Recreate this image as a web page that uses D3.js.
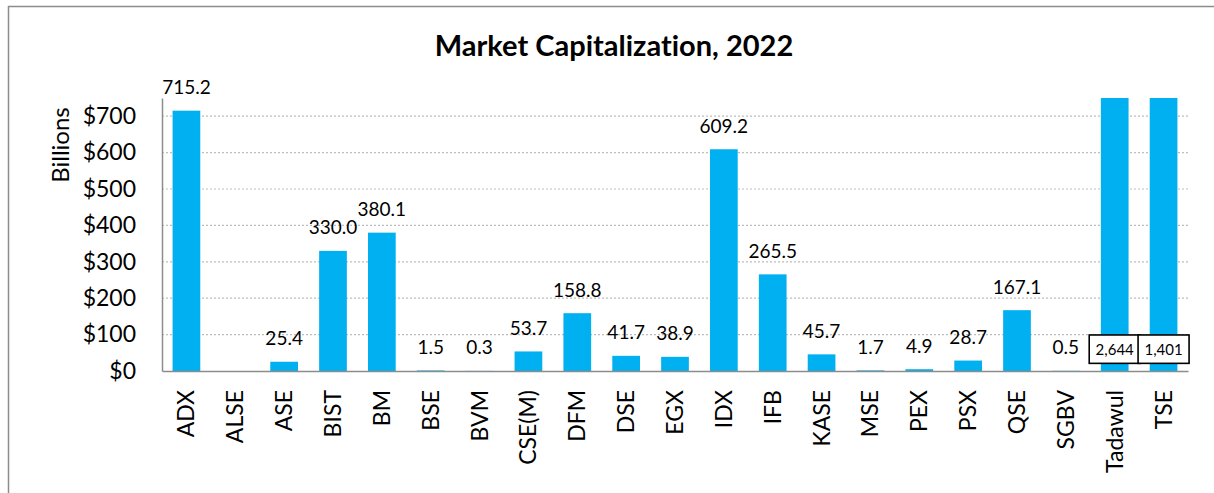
<!DOCTYPE html>
<html>
<head>
<meta charset="utf-8">
<script src="https://cdn.jsdelivr.net/npm/d3@7"></script>
<style>
  body { margin: 0; background: #fff; }
  text { font-family: Lato, "Open Sans", sans-serif; fill: #000; font-variant-ligatures: none; }
</style>
</head>
<body>
<div id="chart"></div>
<script>
// market capitalization by exchange, billions USD
var exchanges = ["ADX", "ALSE", "ASE", "BIST", "BM", "BSE", "BVM", "CSE(M)", "DFM", "DSE",
  "EGX", "IDX", "IFB", "KASE", "MSE", "PEX", "PSX", "QSE", "SGBV", "Tadawul", "TSE"];
var marketCap = [715.2, null, 25.4, 330.0, 380.1, 1.5, 0.3, 53.7, 158.8, 41.7,
  38.9, 609.2, 265.5, 45.7, 1.7, 4.9, 28.7, 167.1, 0.5, 2644, 1401];
var yTicks = [0, 100, 200, 300, 400, 500, 600, 700];
var yMax = 750;

var svgWidth = 1214;
var svgHeight = 493;

var margin = {
  top: 98,
  right: 26,
  bottom: 122,
  left: 162
};

var width = svgWidth - margin.left - margin.right;
var height = svgHeight - margin.top - margin.bottom;

var svg = d3.select("#chart")
  .append("svg")
  .attr("width", svgWidth)
  .attr("height", svgHeight);

// outer frame
svg.append("rect")
  .attr("x", 8.5)
  .attr("y", 6.5)
  .attr("width", 1220)
  .attr("height", 500)
  .attr("fill", "none")
  .attr("stroke", "#8c8c8c")
  .attr("stroke-width", 1.5);

var chartGroup = svg.append("g")
  .attr("transform", `translate(${margin.left}, ${margin.top})`);

var xBandScale = d3.scaleBand()
  .domain(exchanges)
  .range([0, width])
  .paddingInner(0.433)
  .paddingOuter(0.2165);

var yLinearScale = d3.scaleLinear()
  .domain([0, yMax])
  .range([height, 0]);

// gridlines
chartGroup.append("g")
  .selectAll("line")
  .data(yTicks.filter(d => d > 0))
  .enter()
  .append("line")
  .attr("x1", 0)
  .attr("x2", width)
  .attr("y1", d => yLinearScale(d))
  .attr("y2", d => yLinearScale(d))
  .attr("stroke", "#bdbdbd")
  .attr("stroke-width", 1.2)
  .attr("stroke-dasharray", "2,2");

// bars (clipped at axis max)
var rows = exchanges.map((e, i) => ({ name: e, value: marketCap[i] }));

chartGroup.selectAll(".bar")
  .data(rows.filter(d => d.value !== null))
  .enter()
  .append("rect")
  .attr("class", "bar")
  .attr("x", d => xBandScale(d.name))
  .attr("width", xBandScale.bandwidth())
  .attr("y", d => yLinearScale(Math.min(d.value, yMax)))
  .attr("height", d => height - yLinearScale(Math.min(d.value, yMax)))
  .attr("fill", "#00B0F0");

// y axis
var leftAxis = d3.axisLeft(yLinearScale)
  .tickValues(yTicks)
  .tickSize(0)
  .tickPadding(26)
  .tickFormat(d => "$" + d);

var yAxis = chartGroup.append("g").call(leftAxis);
yAxis.select(".domain").attr("stroke", "#8c8c8c").attr("stroke-width", 1.5);
yAxis.selectAll("text")
  .attr("font-size", "23px")
  .attr("font-family", "Lato, sans-serif");

// x axis
var bottomAxis = d3.axisBottom(xBandScale).tickSize(0).tickPadding(0);
var xAxis = chartGroup.append("g")
  .attr("transform", `translate(0, ${height})`)
  .call(bottomAxis);
xAxis.select(".domain").attr("stroke", "#8c8c8c").attr("stroke-width", 1.5);
xAxis.selectAll("text")
  .attr("font-size", "23px")
  .attr("font-family", "Lato, sans-serif")
  .attr("transform", "rotate(-90)")
  .attr("x", -19)
  .attr("y", 0)
  .attr("dy", "0.35em")
  .style("text-anchor", "end");

// value labels
var normal = rows.filter(d => d.value !== null && d.value <= yMax);
chartGroup.selectAll(".vlabel")
  .data(normal)
  .enter()
  .append("text")
  .attr("class", "vlabel")
  .attr("x", d => xBandScale(d.name) + xBandScale.bandwidth() / 2)
  .attr("y", d => yLinearScale(d.value) - 16.5)
  .attr("text-anchor", "middle")
  .attr("font-size", "19px")
  .text(d => d.value.toFixed(1));

// boxed labels for values beyond the axis
var big = rows.filter(d => d.value !== null && d.value > yMax);
var boxes = chartGroup.selectAll(".blabel")
  .data(big)
  .enter()
  .append("g")
  .attr("class", "blabel");

boxes.append("rect")
  .attr("x", d => xBandScale(d.name) + xBandScale.bandwidth() / 2 - 25.5)
  .attr("y", yLinearScale(99))
  .attr("width", 51)
  .attr("height", yLinearScale(21) - yLinearScale(99))
  .attr("fill", "#fff")
  .attr("stroke", "#000")
  .attr("stroke-width", 1.6);

boxes.append("text")
  .attr("x", d => xBandScale(d.name) + xBandScale.bandwidth() / 2)
  .attr("y", (yLinearScale(99) + yLinearScale(21)) / 2)
  .attr("dy", "0.36em")
  .attr("text-anchor", "middle")
  .attr("font-size", "15px")
  .text(d => d3.format(",")(d.value));

// axis title
svg.append("text")
  .attr("transform", "rotate(-90)")
  .attr("x", -145)
  .attr("y", 61)
  .attr("dy", "0.35em")
  .attr("text-anchor", "middle")
  .attr("font-size", "24px")
  .text("Billions");

// chart title
svg.append("text")
  .attr("x", 614)
  .attr("y", 56)
  .attr("text-anchor", "middle")
  .attr("font-size", "29px")
  .attr("font-weight", "bold")
  .text("Market Capitalization, 2022");
</script>
</body>
</html>
